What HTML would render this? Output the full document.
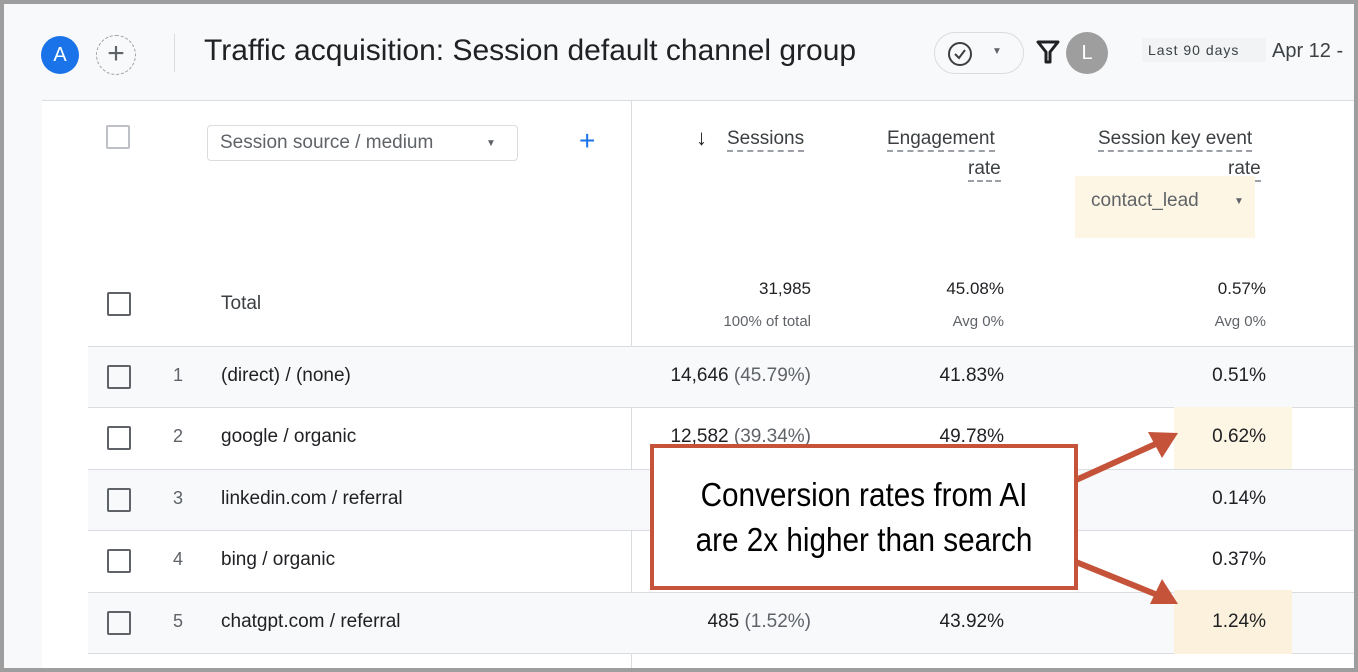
<!DOCTYPE html>
<html><head><meta charset="utf-8"><style>
*{margin:0;padding:0;box-sizing:border-box}
body{width:1358px;height:672px;position:relative;overflow:hidden;background:#9e9e9e;font-family:"Liberation Sans",sans-serif;color:#202124}
.frame{position:absolute;left:4px;top:4px;width:1350px;height:664px;background:#f8f9fa;overflow:hidden}
.a{position:absolute}
.main{left:38px;top:96px;width:1312px;height:570px;background:#fff;border-top:1px solid #dadce0}
.t{position:absolute;white-space:nowrap}
.cb{position:absolute;width:24px;height:24px;border:2px solid #5f6368;border-radius:2px}
.r{text-align:right}
.g{color:#5f6368}
.dash{border-bottom:2px dashed #9aa0a6}
</style></head><body>
<div class="frame">
 <div class="a" style="left:37px;top:32px;width:38px;height:38px;border-radius:50%;background:#1a73e8;color:#fff;font-size:20px;text-align:center;line-height:38px">A</div>
 <div class="a" style="left:92px;top:31px;width:40px;height:40px;border-radius:50%;border:1.5px dashed #9aa0a6;color:#5f6368;font-size:30px;text-align:center;line-height:36px">+</div>
 <div class="a" style="left:170px;top:30px;width:1px;height:38px;background:#dadce0"></div>
 <div class="t" style="left:200px;top:30px;font-size:30px;color:#202124">Traffic acquisition: Session default channel group</div>
 <div class="a" style="left:930px;top:28px;width:90px;height:42px;border:1px solid #dadce0;border-radius:21px"></div>
 <svg class="a" style="left:942px;top:36px" width="28" height="28"><circle cx="14" cy="14" r="11" fill="none" stroke="#3c4043" stroke-width="2"/><polyline points="9,14 13,18 19,10" fill="none" stroke="#3c4043" stroke-width="2"/></svg>
 <div class="t" style="left:988px;top:42px;font-size:10px;color:#5f6368">▼</div>
 <svg class="a" style="left:1032px;top:36px" width="24" height="24"><path d="M2 2 H22 L14 12 V22 H10 V12 Z" fill="none" stroke="#202124" stroke-width="3" stroke-linejoin="round"/></svg>
 <div class="a" style="left:1062px;top:28px;width:42px;height:42px;border-radius:50%;background:#9e9e9e;color:#fff;font-size:20px;text-align:center;line-height:42px">L</div>
 <div class="a" style="left:1138px;top:34px;width:124px;height:24px;background:#f1f3f4"></div>
 <div class="t" style="left:1144px;top:38px;font-size:14px;letter-spacing:1px;color:#3c4043">Last 90 days</div>
 <div class="t" style="left:1268px;top:36px;font-size:20px;color:#3c4043">Apr 12 - </div>

 <div class="a main">
  <div class="a" style="left:589px;top:0;width:1px;height:570px;background:#dadce0"></div>
  <div class="cb" style="left:64px;top:24px;border-color:#bdc1c6"></div>
  <div class="a" style="left:165px;top:24px;width:311px;height:36px;border:1px solid #dadce0;border-radius:4px"></div>
  <div class="t" style="left:178px;top:31px;font-size:19px;color:#5f6368">Session source / medium</div>
  <div class="t" style="left:444px;top:37px;font-size:10px;color:#5f6368">▼</div>
  <div class="t" style="left:537px;top:24px;font-size:28px;color:#1a73e8">+</div>
  <div class="t" style="left:654px;top:24px;font-size:22px">↓</div>
  <div class="t dash" style="left:685px;top:27px;font-size:19px;color:#3c4043">Sessions</div>
  <div class="t dash" style="left:845px;top:27px;font-size:19px;color:#3c4043">Engagement</div>
  <div class="t dash" style="left:926px;top:57px;font-size:19px;color:#3c4043">rate</div>
  <div class="t dash" style="left:1056px;top:27px;font-size:19px;color:#3c4043">Session key event</div>
  <div class="t dash" style="left:1186px;top:57px;font-size:19px;color:#3c4043">rate</div>
  <div class="a" style="left:1033px;top:75px;width:180px;height:62px;background:#fef6e4"></div>
  <div class="t" style="left:1049px;top:89px;font-size:19px;color:#5f6368">contact_lead</div>
  <div class="t" style="left:1192px;top:95px;font-size:10px;color:#5f6368">▼</div>
  <div class="cb" style="left:65px;top:191px"></div>
  <div class="t" style="left:179px;top:192px;font-size:19px;color:#3c4043">Total</div>
  <div class="t r" style="right:543px;top:178px;font-size:17px">31,985</div>
  <div class="t r g" style="right:543px;top:212px;font-size:15px">100% of total</div>
  <div class="t r" style="right:350px;top:178px;font-size:17px">45.08%</div>
  <div class="t r g" style="right:350px;top:212px;font-size:15px">Avg 0%</div>
  <div class="t r" style="right:88px;top:178px;font-size:17px">0.57%</div>
  <div class="t r g" style="right:88px;top:212px;font-size:15px">Avg 0%</div>

  <div class="a" style="left:46px;top:245px;width:1266px;height:62px;background:#f8f9fa;border-top:1px solid #dadce0;border-bottom:1px solid #dadce0"></div>
  <div class="a" style="left:46px;top:368px;width:1266px;height:62px;background:#f8f9fa;border-top:1px solid #dadce0;border-bottom:1px solid #dadce0"></div>
  <div class="a" style="left:46px;top:491px;width:1266px;height:62px;background:#f8f9fa;border-top:1px solid #dadce0;border-bottom:1px solid #dadce0"></div>
  <div class="a" style="left:1132px;top:306px;width:118px;height:62px;background:#fef6e4"></div>
  <div class="a" style="left:1132px;top:489px;width:118px;height:64px;background:#fbf1dc"></div>

  <div class="cb" style="left:65px;top:264px"></div><div class="t g" style="left:131px;top:264px;font-size:18px">1</div><div class="t" style="left:179px;top:264px;font-size:19px">(direct) / (none)</div>
  <div class="t r" style="right:543px;top:264px;font-size:19px">14,646 <span class="g">(45.79%)</span></div><div class="t r" style="right:350px;top:264px;font-size:19px">41.83%</div><div class="t r" style="right:88px;top:264px;font-size:19px">0.51%</div>

  <div class="cb" style="left:65px;top:325px"></div><div class="t g" style="left:131px;top:325px;font-size:18px">2</div><div class="t" style="left:179px;top:325px;font-size:19px">google / organic</div>
  <div class="t r" style="right:543px;top:325px;font-size:19px">12,582 <span class="g">(39.34%)</span></div><div class="t r" style="right:350px;top:325px;font-size:19px">49.78%</div><div class="t r" style="right:88px;top:325px;font-size:19px">0.62%</div>

  <div class="cb" style="left:65px;top:387px"></div><div class="t g" style="left:131px;top:387px;font-size:18px">3</div><div class="t" style="left:179px;top:387px;font-size:19px">linkedin.com / referral</div>
  <div class="t r" style="right:88px;top:387px;font-size:19px">0.14%</div>

  <div class="cb" style="left:65px;top:448px"></div><div class="t g" style="left:131px;top:448px;font-size:18px">4</div><div class="t" style="left:179px;top:448px;font-size:19px">bing / organic</div>
  <div class="t r" style="right:88px;top:448px;font-size:19px">0.37%</div>

  <div class="cb" style="left:65px;top:510px"></div><div class="t g" style="left:131px;top:510px;font-size:18px">5</div><div class="t" style="left:179px;top:510px;font-size:19px">chatgpt.com / referral</div>
  <div class="t r" style="right:543px;top:510px;font-size:19px">485 <span class="g">(1.52%)</span></div><div class="t r" style="right:350px;top:510px;font-size:19px">43.92%</div><div class="t r" style="right:88px;top:510px;font-size:19px">1.24%</div>
 </div>
</div>
<svg class="a" style="left:0;top:0" width="1358" height="672">
 <line x1="1076" y1="480" x2="1160" y2="442" stroke="#c5533a" stroke-width="6"/>
 <polygon points="1178,433 1148,432 1162,458" fill="#c5533a"/>
 <line x1="1076" y1="562" x2="1160" y2="596" stroke="#c5533a" stroke-width="6"/>
 <polygon points="1178,604 1162,579 1150,604" fill="#c5533a"/>
</svg>
<div class="a" style="left:650px;top:444px;width:428px;height:146px;background:#fff;border:4px solid #c5533a"></div>
<div class="t" style="left:650px;top:472px;width:428px;text-align:center;font-size:33px;line-height:45px;color:#000;white-space:normal;transform:scaleX(0.9)">Conversion rates from AI<br>are 2x higher than search</div>
</body></html>
